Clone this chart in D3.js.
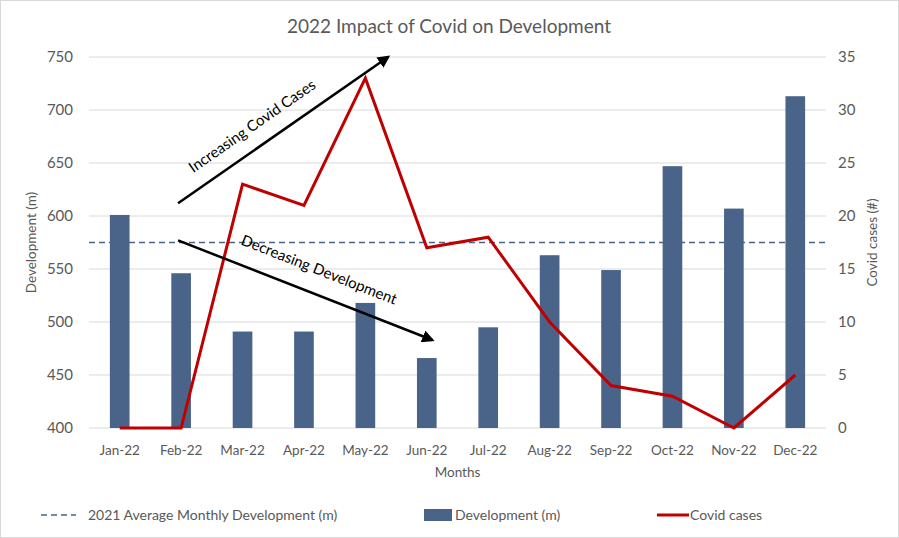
<!DOCTYPE html>
<html><head><meta charset="utf-8">
<script src="https://cdn.jsdelivr.net/npm/d3@7"></script>
<style>body{margin:0;background:#fff}svg{display:block;font-family:Lato,"Noto Sans",sans-serif}</style>
</head><body><svg id="c" width="899" height="538"></svg>
<script>
const months = ["Jan-22","Feb-22","Mar-22","Apr-22","May-22","Jun-22","Jul-22","Aug-22","Sep-22","Oct-22","Nov-22","Dec-22"];
const development = [601, 546, 491, 491, 518, 466, 495, 563, 549, 647, 607, 713];
const covidCases = [0, 0, 23, 21, 33, 17, 18, 10, 4, 3, 0, 5];
const avg2021 = 575;
const leftTicks = [400, 450, 500, 550, 600, 650, 700, 750];
const rightTicks = [0, 5, 10, 15, 20, 25, 30, 35];
// annotations: [start index, start value, end index, end value] in band-index / left-axis units
const annIncrease = [0.95, 612, 4.37, 750];
const annDecrease = [0.95, 577, 5.09, 483];

const svg = d3.select("#c");
const W = 899, H = 538;
const L = 89, R = 826, T = 57, B = 428;
const grey = "#595959";

svg.append("rect").attr("x",0.5).attr("y",0.5).attr("width",W-1).attr("height",H-1)
  .attr("fill","#fff").attr("stroke","#d9d9d9");

const x = d3.scaleBand().domain(months).range([L,R]).paddingInner(0.68).paddingOuter(0.34);
const yL = d3.scaleLinear().domain([400,750]).range([B,T]);
const yR = d3.scaleLinear().domain([0,35]).range([B,T]);
const step = x.step();
const xi = i => L + (i + 0.5) * step;

// gridlines
svg.append("g").selectAll("line").data(leftTicks).join("line")
  .attr("x1",L).attr("x2",R).attr("y1",d=>yL(d)).attr("y2",d=>yL(d))
  .attr("stroke","#d9d9d9").attr("stroke-width",1);

// left axis
const gl = svg.append("g").attr("transform",`translate(${L},0)`)
  .call(d3.axisLeft(yL).tickValues(leftTicks).tickSize(0).tickPadding(16));
gl.select(".domain").remove();
gl.selectAll("text").attr("fill",grey).style("font-size","15px").style("font-family","Lato");

const gr = svg.append("g").attr("transform",`translate(${R},0)`)
  .call(d3.axisRight(yR).tickValues(rightTicks).tickSize(0).tickPadding(12));
gr.select(".domain").remove();
gr.selectAll("text").attr("fill",grey).style("font-size","15px").style("font-family","Lato");

const gx = svg.append("g").attr("transform",`translate(0,${B})`)
  .call(d3.axisBottom(x).tickSize(0).tickPadding(17));
gx.select(".domain").remove();
gx.selectAll("text").attr("fill",grey).style("font-size","13.5px").style("font-family","Lato");

// bars
svg.append("g").selectAll("rect").data(development).join("rect")
  .attr("x",(d,i)=>x(months[i])).attr("width",x.bandwidth())
  .attr("y",d=>yL(d)).attr("height",d=>B-yL(d)).attr("fill","#4a6489");

// average dashed line
svg.append("line").attr("x1",L).attr("x2",R).attr("y1",yL(avg2021)).attr("y2",yL(avg2021))
  .attr("stroke","#4a6489").attr("stroke-width",1.5).attr("stroke-dasharray","6,4");

// covid line
const line = d3.line().x((d,i)=>x(months[i])+x.bandwidth()/2).y(d=>yR(d));
svg.append("path").datum(covidCases).attr("d",line).attr("fill","none")
  .attr("stroke","#c00000").attr("stroke-width",3).attr("stroke-linejoin","miter");

// arrows
const defs = svg.append("defs");
defs.append("marker").attr("id","ah").attr("viewBox","0 0 10 10").attr("refX",8).attr("refY",5)
  .attr("markerWidth",5).attr("markerHeight",5).attr("orient","auto")
  .append("path").attr("d","M0,0L10,5L0,10z").attr("fill","#000");

function arrow(a, label, off){
  const x1=xi(a[0]), y1=yL(a[1]), x2=xi(a[2]), y2=yL(a[3]);
  svg.append("line").attr("x1",x1).attr("y1",y1).attr("x2",x2).attr("y2",y2)
    .attr("stroke","#000").attr("stroke-width",2.5).attr("marker-end","url(#ah)");
  const ang = Math.atan2(y2-y1, x2-x1)*180/Math.PI;
  const mx = x1 + (x2-x1)*off[0], my = y1 + (y2-y1)*off[0];
  svg.append("text").attr("transform",`translate(${mx},${my}) rotate(${ang}) translate(0,${off[1]})`)
    .attr("text-anchor","middle").attr("fill","#000").style("font-size","15px").text(label);
}
arrow(annIncrease, "Increasing Covid Cases", [0.41, -16]);
arrow(annDecrease, "Decreasing Development", [0.52, -19]);

// title
svg.append("text").attr("x",449).attr("y",33).attr("text-anchor","middle").attr("fill",grey)
  .style("font-size","19px").text("2022 Impact of Covid on Development");

// axis titles
svg.append("text").attr("x",(L+R)/2).attr("y",477).attr("text-anchor","middle").attr("fill",grey)
  .style("font-size","13.5px").text("Months");
svg.append("text").attr("transform",`translate(36,${(T+B)/2}) rotate(-90)`).attr("text-anchor","middle")
  .attr("fill",grey).style("font-size","13.5px").text("Development (m)");
svg.append("text").attr("transform",`translate(877,${(T+B)/2}) rotate(-90)`).attr("text-anchor","middle")
  .attr("fill",grey).style("font-size","13.5px").text("Covid cases (#)");

// legend
const ly = 515;
const lg = svg.append("g");
lg.append("line").attr("x1",41).attr("x2",76).attr("y1",ly).attr("y2",ly)
  .attr("stroke","#4a6489").attr("stroke-width",1.5).attr("stroke-dasharray","6,4");
lg.append("text").attr("x",88).attr("y",ly+5).attr("fill",grey).style("font-size","14px")
  .text("2021 Average Monthly Development (m)");
lg.append("rect").attr("x",424).attr("y",ly-6).attr("width",28).attr("height",12).attr("fill","#4a6489");
lg.append("text").attr("x",455).attr("y",ly+5).attr("fill",grey).style("font-size","14px")
  .text("Development (m)");
lg.append("line").attr("x1",657).attr("x2",689).attr("y1",ly).attr("y2",ly)
  .attr("stroke","#c00000").attr("stroke-width",3);
lg.append("text").attr("x",690).attr("y",ly+5).attr("fill",grey).style("font-size","14px")
  .text("Covid cases");
</script></body></html>
